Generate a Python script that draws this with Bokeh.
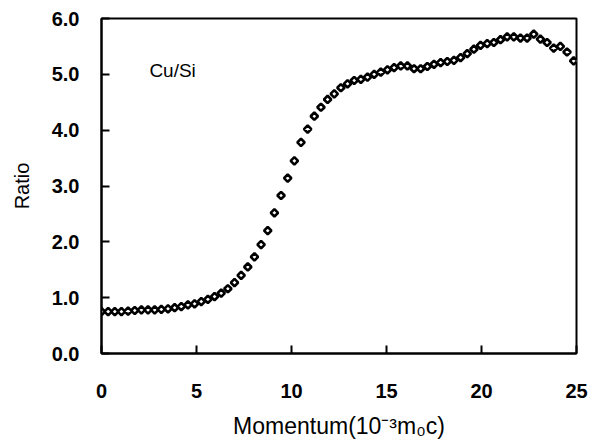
from bokeh.plotting import figure
from bokeh.models import Range1d, FixedTicker, PrintfTickFormatter, Label
from bokeh.embed import file_html
from bokeh.resources import INLINE

# ---- data ----
momentum = [0.0, 0.35, 0.7, 1.05, 1.4, 1.75, 2.1, 2.45, 2.8, 3.15,
            3.5, 3.85, 4.2, 4.55, 4.9, 5.25, 5.6, 5.95, 6.3, 6.65,
            7.0, 7.35, 7.7, 8.05, 8.4, 8.75, 9.1, 9.45, 9.8, 10.15,
            10.5, 10.85, 11.2, 11.55, 11.9, 12.25, 12.6, 12.95, 13.3, 13.65,
            14.0, 14.35, 14.7, 15.05, 15.4, 15.75, 16.1, 16.45, 16.8, 17.15,
            17.5, 17.85, 18.2, 18.55, 18.9, 19.25, 19.6, 19.95, 20.3, 20.65,
            21.0, 21.35, 21.7, 22.05, 22.4, 22.75, 23.1, 23.45, 23.8, 24.15,
            24.5, 24.85]
ratio = [0.75, 0.75, 0.75, 0.75, 0.76, 0.77, 0.78, 0.78, 0.78, 0.79,
         0.80, 0.82, 0.84, 0.87, 0.89, 0.93, 0.97, 1.02, 1.08, 1.16,
         1.27, 1.40, 1.55, 1.73, 1.95, 2.20, 2.52, 2.83, 3.14, 3.45,
         3.78, 4.02, 4.25, 4.41, 4.55, 4.65, 4.76, 4.83, 4.89, 4.91,
         4.95, 5.00, 5.04, 5.08, 5.12, 5.15, 5.15, 5.10, 5.10, 5.14,
         5.18, 5.21, 5.23, 5.25, 5.30, 5.37, 5.45, 5.52, 5.55, 5.57,
         5.62, 5.67, 5.67, 5.65, 5.65, 5.72, 5.63, 5.57, 5.47, 5.50,
         5.40, 5.24]
x_ticks = [0, 5, 10, 15, 20, 25]
y_ticks = [0, 1, 2, 3, 4, 5, 6]
series_label = "Cu/Si"
y_title = "Ratio"
x_title = "Momentum(10\u207b\u00b3m\u2080c)"

FONT = "Liberation Sans"

p = figure(width=597, height=443, output_backend="svg", toolbar_location=None,
           x_range=Range1d(0, 25), y_range=Range1d(0, 6),
           min_border_left=101, min_border_right=21, min_border_top=18,
           min_border_bottom=90)
p.background_fill_color = "white"
p.border_fill_color = "white"
p.outline_line_color = "black"
p.outline_line_width = 2
p.xgrid.visible = False
p.ygrid.visible = False

for ax in (p.xaxis[0], p.yaxis[0]):
    ax.axis_line_color = "black"
    ax.axis_line_width = 2
    ax.major_tick_in = 8
    ax.major_tick_out = 0
    ax.major_tick_line_width = 2
    ax.major_tick_line_color = "black"
    ax.minor_tick_line_color = None
    ax.major_label_text_font = FONT
    ax.major_label_text_font_style = "bold"
    ax.major_label_text_font_size = "20px"
    ax.major_label_text_color = "black"
    ax.axis_label_text_font = FONT
    ax.axis_label_text_font_style = "normal"
    ax.axis_label_text_color = "black"

p.xaxis.ticker = FixedTicker(ticks=x_ticks)
p.yaxis.ticker = FixedTicker(ticks=y_ticks)
p.yaxis.formatter = PrintfTickFormatter(format="%.1f")
p.xaxis.major_label_standoff = 30
p.yaxis.major_label_standoff = 22

p.yaxis.axis_label = y_title
p.yaxis.axis_label_text_font_size = "20px"
p.yaxis.axis_label_standoff = 16

p.xaxis.axis_label = x_title
p.xaxis.axis_label_text_font_size = "23px"
p.xaxis.axis_label_standoff = 12

p.scatter(momentum, ratio, marker="square", angle=0.785, size=5.2,
          fill_color="white", line_color="black", line_width=2.6)

# series label
p.add_layout(Label(x=2.52, y=5.07, text=series_label, text_font=FONT,
                   text_font_size="19px", text_color="black",
                   text_baseline="alphabetic"))

open("out.html", "w").write(file_html(p, INLINE))
